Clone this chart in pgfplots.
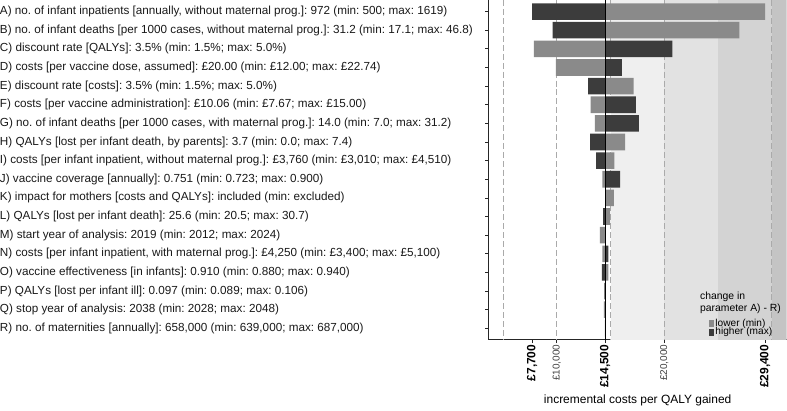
\documentclass[border=0pt]{standalone}
\usepackage{fontspec}
\setmainfont{Liberation Sans}
\usepackage{pgfplots}
\usepackage{pgfplotstable}
\pgfplotsset{compat=1.18}
\frenchspacing
\definecolor{lightbar}{HTML}{8A8A8A}
\definecolor{darkbar}{HTML}{3C3C3C}
\definecolor{bandA}{HTML}{EFEFEF}
\definecolor{bandB}{HTML}{E2E2E2}
\definecolor{bandC}{HTML}{D3D3D3}
\definecolor{bandD}{HTML}{C4C4C4}
\definecolor{dashc}{HTML}{AAAAAA}
\pgfplotstableread{
row value
0 29400
1 27000
2 7850
3 9900
4 17150
5 13150
6 13550
7 16350
8 15350
9 14250
10 15300
11 14950
12 14000
13 14250
14 14800
15 14560
16 14380
17 14470
}\lowertab
\pgfplotstableread{
row value
0 7700
1 9600
2 20750
3 16050
4 12900
5 17350
6 17650
7 13100
8 13650
9 15900
11 14300
12 14550
13 14800
14 14200
15 14430
16 14520
17 14530
}\highertab
\begin{document}
\frenchspacing
\begin{tikzpicture}
\begin{axis}[
  scale only axis, width=224pt, height=255pt,
  x coord trafo/.code={\begingroup\pgfkeys{/pgf/fpu=true,/pgf/fpu/output format=fixed}\pgfmathparse{#1-14500}\pgfmathsmuggle\pgfmathresult\endgroup},
  x coord inv trafo/.code={\begingroup\pgfkeys{/pgf/fpu=true,/pgf/fpu/output format=fixed}\pgfmathparse{#1+14500}\pgfmathsmuggle\pgfmathresult\endgroup},
  xmin=3650, xmax=31400,
  ymin=-0.6, ymax=17.6, y dir=reverse,
  scaled x ticks=false,
  axis x line*=bottom, axis y line*=left,
  axis line style={-, line width=0.6pt, black!85},
  tick style={line width=0.6pt, black!85},
  tick align=outside, major tick length=2.7pt,
  xtick={7700,10000,14500,20000,29400},
  xticklabels={{\fontsize{9}{9}\selectfont\bfseries £7,700},{\fontsize{7.5}{8}\selectfont\color{black!75}£10,000},{\fontsize{9}{9}\selectfont\bfseries £14,500},{\fontsize{7.5}{8}\selectfont\color{black!75}£20,000},{\fontsize{9}{9}\selectfont\bfseries £29,400}},
  xticklabel style={rotate=90, anchor=east, inner sep=1pt},
  ytick={0,...,17},
  yticklabels={
    {A) no.\ of infant inpatients [annually, without maternal prog.]: 972 (min: 500; max: 1619)},
    {B) no.\ of infant deaths [per 1000 cases, without maternal prog.]: 31.2 (min: 17.1; max: 46.8)},
    {C) discount rate [QALYs]: 3.5\% (min: 1.5\%; max: 5.0\%)},
    {D) costs [per vaccine dose, assumed]: £20.00 (min: £12.00; max: £22.74)},
    {E) discount rate [costs]: 3.5\% (min: 1.5\%; max: 5.0\%)},
    {F) costs [per vaccine administration]: £10.06 (min: £7.67; max: £15.00)},
    {G) no.\ of infant deaths [per 1000 cases, with maternal prog.]: 14.0 (min: 7.0; max: 31.2)},
    {H) QALYs [lost per infant death, by parents]: 3.7 (min: 0.0; max: 7.4)},
    {I) costs [per infant inpatient, without maternal prog.]: £3,760 (min: £3,010; max: £4,510)},
    {J) vaccine coverage [annually]: 0.751 (min: 0.723; max: 0.900)},
    {K) impact for mothers [costs and QALYs]: included (min: excluded)},
    {L) QALYs [lost per infant death]: 25.6 (min: 20.5; max: 30.7)},
    {M) start year of analysis: 2019 (min: 2012; max: 2024)},
    {N) costs [per infant inpatient, with maternal prog.]: £4,250 (min: £3,400; max: £5,100)},
    {O) vaccine effectiveness [in infants]: 0.910 (min: 0.880; max: 0.940)},
    {P) QALYs [lost per infant ill]: 0.097 (min: 0.089; max: 0.106)},
    {Q) stop year of analysis: 2038 (min: 2028; max: 2048)},
    {R) no.\ of maternities [annually]: 658,000 (min: 639,000; max: 687,000)}},
  yticklabel style={anchor=west, inner sep=0pt, xshift=-365pt, font=\frenchspacing\fontsize{8.8}{10}\selectfont, text=black!90},
  xlabel={incremental costs per QALY gained},
  xlabel style={font=\fontsize{9}{10}\selectfont, at={(axis description cs:0.5,0)}, anchor=center, yshift=-46pt},
  legend style={at={(axis description cs:0.739,0.004)}, anchor=south west, draw=none, fill=none,
    font=\fontsize{7.6}{8}\selectfont, inner sep=0pt, row sep=-2.0pt, nodes={inner sep=0.8pt}},
  legend cell align=left,
]
\addplot[draw=none, fill=bandA, forget plot] coordinates {(15000,-0.6) (15000,17.6) (20000,17.6) (20000,-0.6)} -- cycle;
\addplot[draw=none, fill=bandB, forget plot] coordinates {(20000,-0.6) (20000,17.6) (25000,17.6) (25000,-0.6)} -- cycle;
\addplot[draw=none, fill=bandC, forget plot] coordinates {(25000,-0.6) (25000,17.6) (30000,17.6) (30000,-0.6)} -- cycle;
\addplot[draw=none, fill=bandD, forget plot] coordinates {(30000,-0.6) (30000,17.6) (32000,17.6) (32000,-0.6)} -- cycle;
\addplot[dashc, dash pattern=on 4.5pt off 2.2pt, line width=0.7pt, forget plot] coordinates {(5000,-0.6) (5000,17.6)};
\addplot[dashc, dash pattern=on 4.5pt off 2.2pt, line width=0.7pt, forget plot] coordinates {(10000,-0.6) (10000,17.6)};
\addplot[dashc, dash pattern=on 4.5pt off 2.2pt, line width=0.7pt, forget plot] coordinates {(15000,-0.6) (15000,17.6)};
\addplot[dashc, dash pattern=on 4.5pt off 2.2pt, line width=0.7pt, forget plot] coordinates {(20000,-0.6) (20000,17.6)};
\addplot[dashc, dash pattern=on 4.5pt off 2.2pt, line width=0.7pt, forget plot] coordinates {(30000,-0.6) (30000,17.6)};
\addplot[xbar, bar shift=0pt, bar width=0.89, fill=lightbar, draw=none,
  legend image code/.code={\fill[lightbar] (0pt,-2.6pt) rectangle (4pt,2.6pt);}]
  table[x=value, y=row] {\lowertab};
\addlegendentry{lower (min)}
\addplot[xbar, bar shift=0pt, bar width=0.89, fill=darkbar, draw=none,
  legend image code/.code={\fill[darkbar] (0pt,-2.6pt) rectangle (4pt,2.6pt);}]
  table[x=value, y=row] {\highertab};
\addlegendentry{higher (max)}
\addplot[black, line width=0.6pt, forget plot] coordinates {(14500,-0.6) (14500,17.6)};
\node[anchor=south west, align=left, inner sep=0pt, font=\fontsize{7.8}{9.2}\selectfont] at (axis description cs:0.709,0.075) {change in\\parameter A) - R)};
\end{axis}
\end{tikzpicture}
\end{document}
